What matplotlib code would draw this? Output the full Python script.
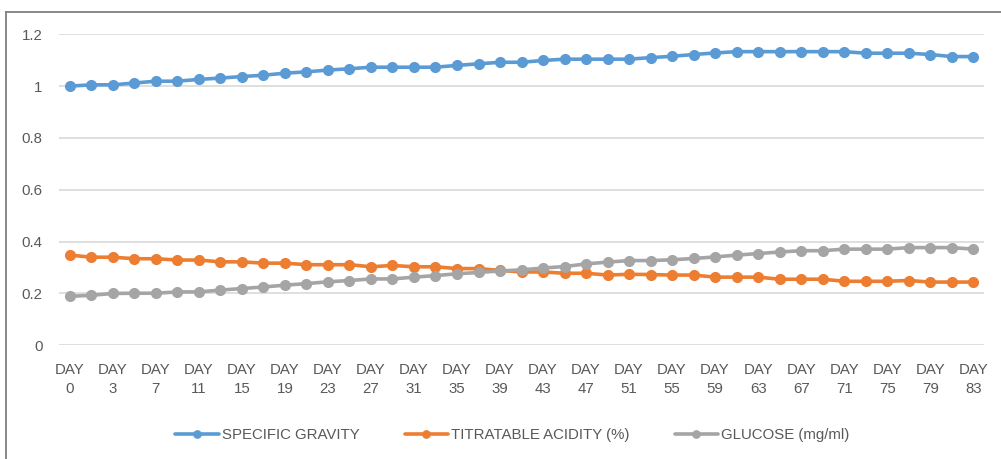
import matplotlib
matplotlib.use("Agg")
import matplotlib.pyplot as plt
from matplotlib.lines import Line2D

days = [0] + list(range(1, 84, 2))
day_labels = ["DAY\n%d" % d for d in days]

specific_gravity = [1.000, 1.005, 1.005, 1.012, 1.019, 1.019, 1.026, 1.031, 1.037, 1.042,
                    1.050, 1.055, 1.062, 1.067, 1.073, 1.073, 1.073, 1.073, 1.080, 1.086,
                    1.092, 1.092, 1.099, 1.104, 1.104, 1.104, 1.104, 1.110, 1.115, 1.122,
                    1.128, 1.133, 1.133, 1.133, 1.133, 1.133, 1.133, 1.127, 1.127, 1.127,
                    1.122, 1.114, 1.114]
titratable_acidity = [0.348, 0.340, 0.340, 0.334, 0.334, 0.329, 0.329, 0.322, 0.322, 0.317,
                      0.317, 0.311, 0.311, 0.311, 0.303, 0.308, 0.303, 0.303, 0.296, 0.296,
                      0.289, 0.283, 0.283, 0.278, 0.278, 0.271, 0.274, 0.273, 0.271, 0.271,
                      0.263, 0.263, 0.263, 0.255, 0.255, 0.255, 0.247, 0.247, 0.247, 0.250,
                      0.244, 0.244, 0.244]
glucose = [0.189, 0.193, 0.200, 0.201, 0.201, 0.206, 0.206, 0.213, 0.219, 0.225,
           0.232, 0.238, 0.245, 0.250, 0.256, 0.256, 0.263, 0.269, 0.276, 0.281,
           0.287, 0.291, 0.298, 0.304, 0.314, 0.321, 0.327, 0.327, 0.330, 0.335,
           0.341, 0.348, 0.354, 0.360, 0.365, 0.365, 0.371, 0.371, 0.371, 0.377,
           0.377, 0.377, 0.371]

series = [
    ("SPECIFIC GRAVITY", specific_gravity, "#5B9BD5"),
    ("TITRATABLE ACIDITY (%)", titratable_acidity, "#ED7D31"),
    ("GLUCOSE (mg/ml)", glucose, "#A5A5A5"),
]

plt.rcParams["font.family"] = ["Liberation Sans", "DejaVu Sans"]
text_color = "#595959"
fs = 10.8

fig = plt.figure(figsize=(10.01, 4.59), dpi=100)
ax = fig.add_axes([0.059, 0.2477, 0.924, 0.6776])

xs = list(range(len(days)))
for name, vals, color in series:
    ax.plot(xs, vals, color=color, lw=2.6, marker="o", markersize=7,
            label=name, solid_capstyle="round")

ax.set_xlim(-0.5, len(days) - 0.5)
ax.set_ylim(0, 1.2)
ax.set_yticks([0, 0.2, 0.4, 0.6, 0.8, 1.0, 1.2])
ax.set_yticklabels(["0", "0.2", "0.4", "0.6", "0.8", "1", "1.2"])
ax.set_xticks(xs[::2])
ax.set_xticklabels(day_labels[::2], linespacing=1.45)
ax.tick_params(axis="both", length=0, colors=text_color, labelsize=fs)
ax.tick_params(axis="y", pad=12)
ax.tick_params(axis="x", pad=12.5)
ax.grid(axis="y", color="#D9D9D9", lw=1.2)
ax.set_axisbelow(True)
for s in ax.spines.values():
    s.set_visible(False)

leg = fig.legend(loc="center", bbox_to_anchor=(0.512, 0.052), ncol=3, frameon=False,
                 fontsize=fs, handlelength=2.9, handletextpad=0.2, columnspacing=3.0,
                 markerscale=0.75)
for t in leg.get_texts():
    t.set_color(text_color)

# outer chart border (top and left edges)
fig.add_artist(Line2D([0.0055, 1.0], [0.974, 0.974], color="#7F7F7F", lw=1.3))
fig.add_artist(Line2D([0.0055, 0.0055], [0.0, 0.974], color="#7F7F7F", lw=1.3))

fig.savefig("out.png", dpi=100)
